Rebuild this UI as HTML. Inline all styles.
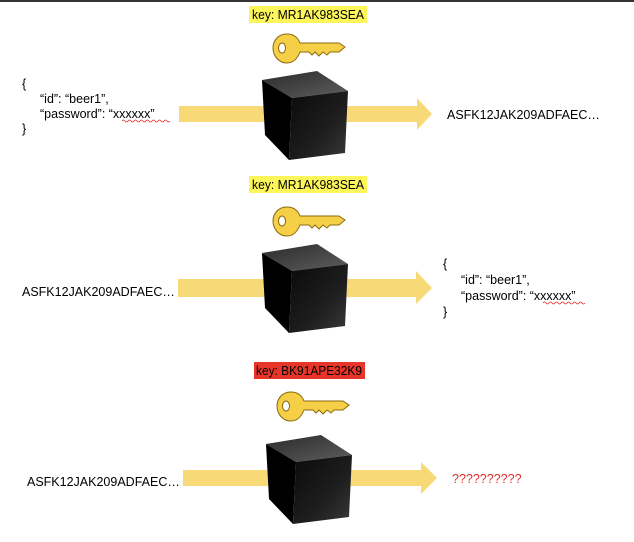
<!DOCTYPE html>
<html><head><meta charset="utf-8"><style>
body{margin:0;width:634px;height:537px;background:#fff;overflow:hidden;font-family:"Liberation Sans",sans-serif;}
</style></head><body>
<svg width="634" height="537" xmlns="http://www.w3.org/2000/svg" font-family="Liberation Sans, sans-serif">
<defs>
<linearGradient id="tp" x1="0" y1="0" x2="1" y2="1"><stop offset="0" stop-color="#2a2a2a"/><stop offset="1" stop-color="#5e5e5e"/></linearGradient>
<linearGradient id="fr" x1="0" y1="0" x2="1" y2="1"><stop offset="0" stop-color="#0a0a0a"/><stop offset="0.6" stop-color="#1e1e1e"/><stop offset="1" stop-color="#3a3a3a"/></linearGradient>
<g id="cube">
<polygon points="0,9 55,0 86,20 30,27" fill="url(#tp)"/>
<polygon points="0,9 30,27 27,89 3,64" fill="#000"/>
<polygon points="30,27 86,20 83,82 27,89" fill="url(#fr)"/>
</g>
<g id="key">
<path d="M14,2 C4,2 0,10 0,16 C0,23 5,31 14,31 C21,31 25,25 27,20 L36,20 L39,23 L42,20 L46,24 L50,20 L54,23 L57,20 L66,20 L72,15 L66,11 L27,11 C25,6 21,2 14,2 Z" fill="#f5cf45" stroke="#8a6a10" stroke-width="1"/>
<ellipse cx="9" cy="16" rx="3.5" ry="5" fill="#fff" stroke="#8a6a10" stroke-width="1"/>
</g>
</defs>
<rect x="0" y="0" width="634" height="2" fill="#333"/>

<!-- panel 1 -->
<rect x="249" y="6" width="118" height="17" fill="#fdf65a"/>
<text x="252" y="19" font-size="13" textLength="112" lengthAdjust="spacingAndGlyphs" fill="#000">key: MR1AK983SEA</text>
<use href="#key" x="273" y="32"/>
<polygon points="179,106 417,106 417,98 432,114 417,130 417,122 179,122" fill="#f8d978"/>
<use href="#cube" x="262" y="71"/>
<g font-size="12.5" fill="#000">
<text x="22" y="88">{</text>
<text x="40" y="103">“id”: “beer1”,</text>
<text x="40" y="118">“password”: “xxxxxx”</text>
<text x="22" y="133">}</text>
<text x="447" y="119">ASFK12JAK209ADFAEC…</text>
</g>
<path d="M122,121 q1.5,-2 3,0 t3,0 t3,0 t3,0 t3,0 t3,0 t3,0 t3,0 t3,0 t3,0 t3,0 t3,0 t3,0 t3,0 t3,0 t3,0" stroke="#e03030" stroke-width="0.8" fill="none"/>

<!-- panel 2 -->
<rect x="249" y="176" width="118" height="17" fill="#fdf65a"/>
<text x="252" y="189" font-size="13" textLength="112" lengthAdjust="spacingAndGlyphs" fill="#000">key: MR1AK983SEA</text>
<use href="#key" x="273" y="205"/>
<polygon points="178,279 416,279 416,271 432,288 416,304 416,297 178,297" fill="#f8d978"/>
<use href="#cube" x="262" y="244"/>
<g font-size="12.5" fill="#000">
<text x="22" y="296">ASFK12JAK209ADFAEC…</text>
<text x="443" y="268">{</text>
<text x="461" y="284">“id”: “beer1”,</text>
<text x="461" y="300">“password”: “xxxxxx”</text>
<text x="443" y="316">}</text>
</g>
<path d="M543,303 q1.5,-2 3,0 t3,0 t3,0 t3,0 t3,0 t3,0 t3,0 t3,0 t3,0 t3,0 t3,0 t3,0 t3,0 t3,0" stroke="#e03030" stroke-width="0.8" fill="none"/>

<!-- panel 3 -->
<rect x="254" y="362" width="111" height="17" fill="#e8352a"/>
<text x="256" y="375" font-size="13" textLength="106" lengthAdjust="spacingAndGlyphs" fill="#000">key: BK91APE32K9</text>
<use href="#key" x="277" y="390"/>
<polygon points="183,470 421,470 421,462 437,478 421,494 421,486 183,486" fill="#f8d978"/>
<use href="#cube" x="266" y="435"/>
<text x="27" y="486" font-size="12.5" fill="#000">ASFK12JAK209ADFAEC…</text>
<text x="452" y="483" font-size="12.5" fill="#e03030">??????????</text>
</svg>
</body></html>
